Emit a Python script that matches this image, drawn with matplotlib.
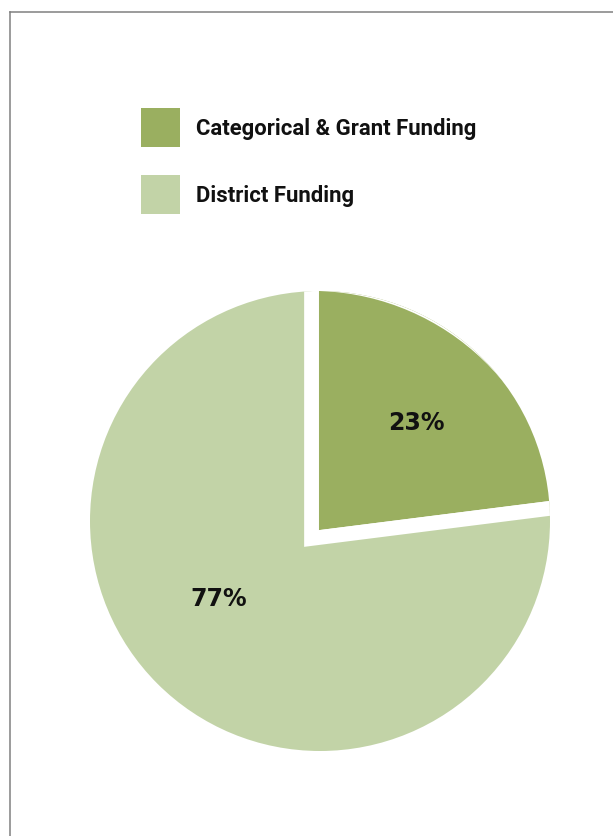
import matplotlib.pyplot as plt
from matplotlib.lines import Line2D
from matplotlib.patches import Circle, Rectangle

# funding split (percent)
labels = ['Categorical & Grant Funding', 'District Funding']
shares = [23, 77]
colors = ['#9AAF60', '#C2D3A7']

W, H = 613, 837
fig = plt.figure(figsize=(W / 100, H / 100), dpi=100)
ax = fig.add_axes([0, 0, 1, 1])

# pie, starting at 12 o'clock and running clockwise; the white edges
# separate the slices, the outline is trimmed to a round disc
wedges, _ = ax.pie(shares, colors=colors, startangle=90, counterclock=False,
                   center=(311.5, 297.5), radius=255,
                   wedgeprops=dict(edgecolor='white', linewidth=10.6,
                                   joinstyle='miter'))
disc = Circle((320, 315), 230, transform=ax.transData)
for w in wedges:
    w.set_clip_on(True)
    w.set_clip_path(disc)

ax.set_xlim(0, W)
ax.set_ylim(0, H)
ax.set_aspect('equal')
ax.axis('off')

# percent labels
pct_pos = [(416, 414), (218.5, 238)]
for val, (x, y) in zip(shares, pct_pos):
    ax.text(x, y, f'{val}%', ha='center', va='center', fontsize=17,
            fontweight='bold', family='DejaVu Sans', color='#111111')

# outer frame (cropped at right and bottom)
ax.add_line(Line2D([10.2, 10.2], [-5, 824.3], color='#808080', lw=1.1))
ax.add_line(Line2D([10.2, W + 5], [824.3, 824.3], color='#808080', lw=1.1))

# legend
for i, (lab, col) in enumerate(zip(labels, colors)):
    top = H - 109 - i * 67
    ax.add_patch(Rectangle((141, top - 39), 39, 39, facecolor=col,
                           edgecolor='none'))
    ax.text(196, top - 20, lab, ha='left', va='center', fontsize=15.9,
            family=['Roboto', 'DejaVu Sans'], fontweight='bold',
            color='#111111')

fig.savefig('out.png', dpi=100)
